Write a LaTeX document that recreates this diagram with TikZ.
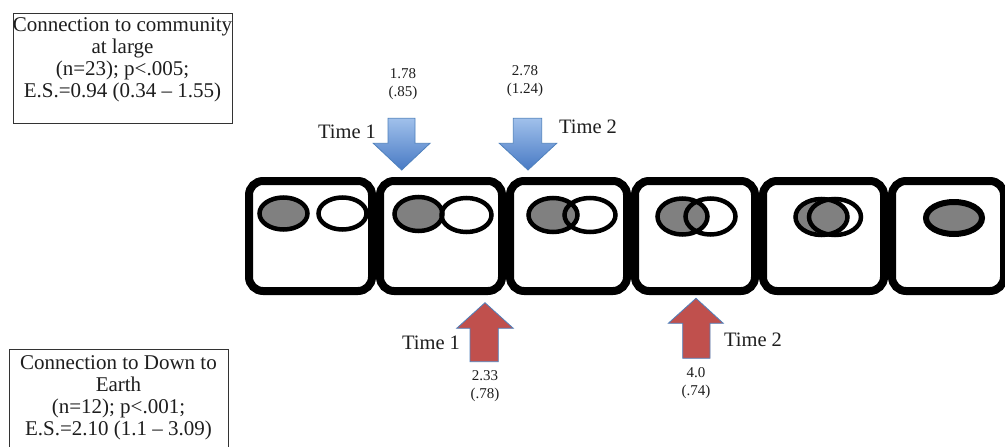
\documentclass[tikz,border=0pt]{standalone}
\usepackage{fontspec}
\setmainfont{Liberation Serif}
\definecolor{ovalgray}{RGB}{128,128,128}
\definecolor{arrowedge}{RGB}{79,129,189}
\definecolor{bluetop}{RGB}{160,192,235}
\definecolor{bluebottom}{RGB}{72,122,196}
\definecolor{arrowred}{RGB}{192,80,77}
\definecolor{inktext}{RGB}{30,30,30}
\begin{document}
\begin{tikzpicture}[x=1pt,y=-1pt,
  stagebox/.style={draw=black,line width=8pt,rounded corners=14pt},
  grayoval/.style={fill=ovalgray},
  ovalline/.style={draw=black,line width=4.5pt},
  bluearrow/.style={draw=arrowedge,line width=0.8pt,top color=bluetop,bottom color=bluebottom},
  redarrow/.style={draw=arrowedge,line width=0.8pt,fill=arrowred},
  timelabel/.style={font=\fontsize{20.5}{22}\selectfont,text=inktext,inner sep=0pt},
  meanlabel/.style={font=\fontsize{15}{18}\selectfont,text=inktext,align=center,inner sep=0pt},
  statbox/.style={draw=black!80,line width=1pt},
  stattext/.style={font=\fontsize{21}{22}\selectfont,text=inktext,align=center,inner sep=0pt,anchor=north}]

\clip (0,0) rectangle (1005,447);
\fill[white] (0,0) rectangle (1005,447);

% statistics boxes
\draw[statbox] (13,13) rectangle (232,123);
\node[stattext] (statA) at (122.5,17.4)
  {Connection to community\\at large\\(n=23); p<.005;\\E.S.=0.94 (0.34 -- 1.55)};
\draw[statbox] (9,349) rectangle (228,470);
\node[stattext] (statB) at (118.5,355)
  {Connection to Down to\\Earth\\(n=12); p<.001;\\E.S.=2.10 (1.1 -- 3.09)};

% row of stages
\foreach \l/\r in {249/372, 380/502, 510/627, 635/755, 763/884, 892/1004}
  \draw[stagebox] (\l,181) rectangle (\r,291);

% overlapping circles: gray filling first, then outlines
\foreach \gx/\gy/\grx/\gry/\wx/\wy/\wrx/\wry in {
    283.5/213.5/24/16/342.5/213.5/24/16,
    418.5/214/24/17/466.5/215/25/17,
    553/215/24.5/17/590/215/25.5/17,
    682.5/216.5/25/18/710.5/216.5/25/18,
    821.5/217/26/18/835/217/26/18}{
  \fill[grayoval] (\gx,\gy) ellipse [x radius=\grx, y radius=\gry];
  \draw[ovalline] (\wx,\wy) ellipse [x radius=\wrx, y radius=\wry];
  \draw[ovalline] (\gx,\gy) ellipse [x radius=\grx, y radius=\gry];
}
\filldraw[grayoval,draw=black,line width=6pt] (954,218) ellipse [x radius=28, y radius=16];

% blue arrows (top)
\draw[bluearrow] (388,118.3) -- (415,118.3) -- (415,143.3) -- (430,143.3)
  -- (401.7,170) -- (373.3,143.3) -- (388,143.3) -- cycle;
\draw[bluearrow] (513.3,118.3) -- (541.7,118.3) -- (541.7,143.3) -- (556.7,143.3)
  -- (528,170) -- (499.3,143.3) -- (513.3,143.3) -- cycle;

% red arrows (bottom)
\draw[redarrow] (470,361.7) -- (498.3,361.7) -- (498.3,328.3) -- (513.3,328.3)
  -- (485,302.7) -- (456.7,328.3) -- (470,328.3) -- cycle;
\draw[redarrow] (682.7,358.3) -- (710,358.3) -- (710,323.3) -- (723.3,323.3)
  -- (696,298.3) -- (668.3,323.3) -- (682.7,323.3) -- cycle;

% labels
\node[timelabel] (tA1) at (347,132) {Time 1};
\node[timelabel] (tA2) at (588,127) {Time 2};
\node[timelabel] (tB1) at (431,343) {Time 1};
\node[timelabel] (tB2) at (753,340) {Time 2};

\node[meanlabel] (mA1) at (403,84.5) {1.78\\(.85)};
\node[meanlabel] (mA2) at (525,81.5) {2.78\\(1.24)};
\node[meanlabel] (mB1) at (485,386) {2.33\\(.78)};
\node[meanlabel] (mB2) at (696,383) {4.0\\(.74)};
\end{tikzpicture}
\end{document}
